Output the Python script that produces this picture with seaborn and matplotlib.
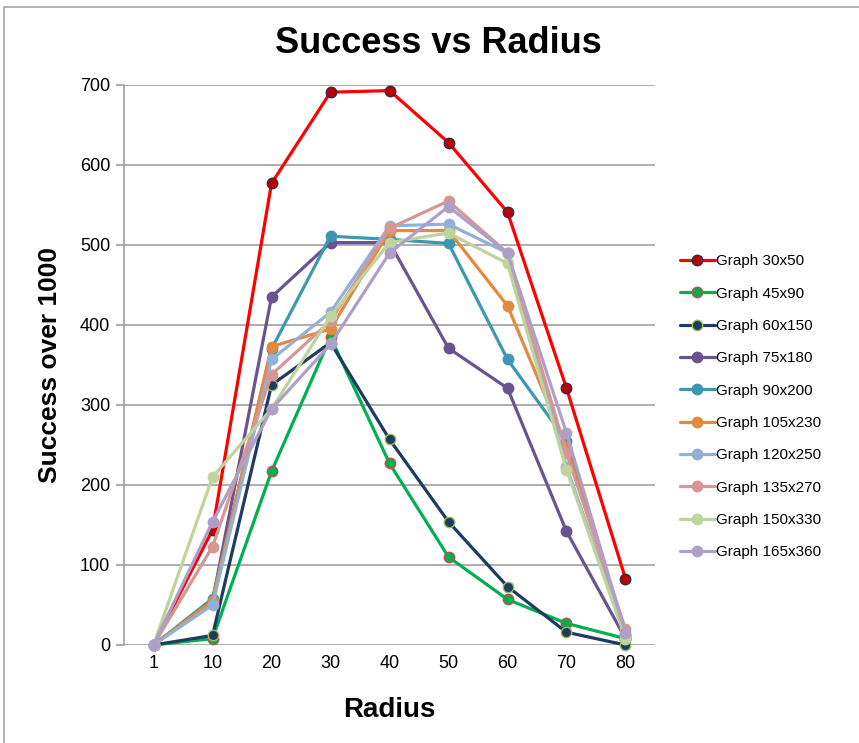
import pandas as pd
import seaborn as sns
import matplotlib.pyplot as plt
from matplotlib.lines import Line2D

radius = ["1", "10", "20", "30", "40", "50", "60", "70", "80"]

graph_names = ["Graph 30x50", "Graph 45x90", "Graph 60x150", "Graph 75x180",
               "Graph 90x200", "Graph 105x230", "Graph 120x250", "Graph 135x270",
               "Graph 150x330", "Graph 165x360"]

g30x50 = [0, 144, 577, 691, 693, 628, 541, 321, 83]
g45x90 = [0, 8, 217, 385, 227, 110, 57, 27, 8]
g60x150 = [0, 12, 325, 378, 257, 154, 73, 16, 0]
g75x180 = [0, 55, 435, 503, 503, 371, 321, 142, 8]
g90x200 = [0, 58, 370, 511, 507, 502, 357, 255, 10]
g105x230 = [0, 55, 373, 395, 518, 518, 424, 248, 12]
g120x250 = [0, 50, 357, 416, 524, 526, 490, 223, 12]
g135x270 = [0, 123, 338, 405, 521, 555, 490, 240, 20]
g150x330 = [0, 210, 295, 411, 503, 515, 477, 219, 8]
g165x360 = [0, 154, 295, 376, 490, 548, 490, 265, 15]

series = [g30x50, g45x90, g60x150, g75x180, g90x200,
          g105x230, g120x250, g135x270, g150x330, g165x360]

line_colors = ["#FF0000", "#00B050", "#1F3B60", "#6A5391", "#3C98B2",
               "#E38A3E", "#93B1D8", "#D69694", "#BFD49B", "#AE9FC8"]
face_colors = ["#C00000", "#00B050", "#1F3B60", "#6A5391", "#3C98B2",
               "#E38A3E", "#93B1D8", "#D69694", "#BFD49B", "#AE9FC8"]
edge_colors = ["#2B2B4A", "#C0504D", "#9BBB59", "#6A5391", "#3C98B2",
               "#E38A3E", "#93B1D8", "#D69694", "#BFD49B", "#AE9FC8"]

rows = []
for name, vals in zip(graph_names, series):
    for i, v in enumerate(vals):
        rows.append({"graph": name, "pos": i, "success": v})
df = pd.DataFrame(rows)

sns.set_style("white")
plt.rcParams["font.family"] = ["Liberation Sans", "DejaVu Sans"]
plt.rcParams["text.color"] = "black"
plt.rcParams["xtick.color"] = "black"
plt.rcParams["ytick.color"] = "black"
plt.rcParams["axes.labelcolor"] = "black"

fig = plt.figure(figsize=(8.59, 7.43), dpi=100)
ax = fig.add_axes([0.1444, 0.1319, 0.7625 - 0.1444, 0.8856 - 0.1319])

for name, lc, fc, ec in zip(graph_names, line_colors, face_colors, edge_colors):
    sns.lineplot(data=df[df["graph"] == name], x="pos", y="success", ax=ax,
                 color=lc, linewidth=2.3, marker="o", markersize=7.5,
                 markerfacecolor=fc, markeredgecolor=ec, markeredgewidth=1.0,
                 label=name, clip_on=False)

ax.set_xlim(-0.5, len(radius) - 0.5)
ax.set_ylim(0, 700)
ax.set_xticks(range(len(radius)))
ax.set_xticklabels(radius)
ax.set_yticks(range(0, 701, 100))
ax.yaxis.grid(True, color="#A0A0A0", linewidth=1.2)
ax.set_axisbelow(True)
ax.tick_params(axis="x", length=0, labelsize=13, pad=7, labelcolor="black")
ax.tick_params(axis="y", length=6, color="#A0A0A0", width=1.2, labelsize=13, pad=4,
               left=True, labelcolor="black")
for s in ["top", "right", "bottom"]:
    ax.spines[s].set_visible(False)
ax.spines["left"].set_color("#A0A0A0")
ax.spines["left"].set_linewidth(1.2)

fig.text(0.51, 0.942, "Success vs Radius", fontsize=26, fontweight="bold",
         ha="center", va="center")
ax.set_xlabel("Radius", fontsize=20, fontweight="bold", labelpad=18)
ax.set_ylabel("Success over 1000", fontsize=19, fontweight="bold", labelpad=13)

ax.legend(loc="center left", bbox_to_anchor=(1.035, 0.425), frameon=False,
          fontsize=11, labelspacing=1.2, handlelength=2.3, handletextpad=0.1,
          borderaxespad=0)

# Excel chart frame
fig.add_artist(Line2D([0.005, 0.005], [0.0, 0.99], color="#A6A6A6", linewidth=1.2))
fig.add_artist(Line2D([0.005, 1.0], [0.99, 0.99], color="#A6A6A6", linewidth=1.2))

plt.savefig("out.png", dpi=100)
